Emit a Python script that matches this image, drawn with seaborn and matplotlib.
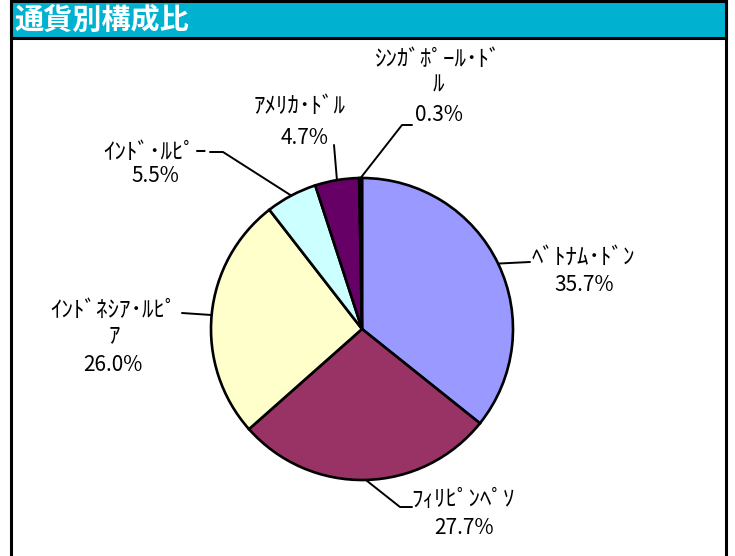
import numpy as np
import seaborn as sns
import matplotlib
matplotlib.use('Agg')
import matplotlib.pyplot as plt
from matplotlib.patches import Rectangle

# データ（通貨別構成比）
currencies = ['ﾍﾞﾄﾅﾑ･ﾄﾞﾝ', 'ﾌｨﾘﾋﾟﾝﾍﾟｿ', 'ｲﾝﾄﾞﾈｼｱ･ﾙﾋﾟ\nｱ', 'ｲﾝﾄﾞ･ﾙﾋﾟｰ', 'ｱﾒﾘｶ･ﾄﾞﾙ', 'ｼﾝｶﾞﾎﾟｰﾙ･ﾄﾞ\nﾙ']
shares = [35.7, 27.7, 26.0, 5.5, 4.7, 0.3]
colors = ['#9999FF', '#993366', '#FFFFCC', '#CCFFFF', '#660066', '#000000']
title = '通貨別構成比'

# レイアウト（ピクセル）
W, H = 735, 556
cx, cy, r = 362, 329, 151
name_px = [(583, 257), (463, 500), (114, 323), (155, 152), (300, 107), (438, 72)]
value_px = [(584, 285), (464, 528), (113, 365), (155, 176), (305, 138), (439, 115)]
elbow_px = [[(530, 262)], [(400, 507), (412, 507)], [(182, 313)],
            [(223, 152), (210, 152)], [(334, 145)], [(402, 125), (412, 125)]]

sns.set_theme(style='white')
plt.rcParams['font.family'] = ['Noto Sans CJK JP', 'DejaVu Sans']

fig = plt.figure(figsize=(W / 100, H / 100), dpi=100, facecolor='white')


def fx(x):
    return x / W


def fy(y):
    return 1 - y / H


# 枠とタイトルバー
fig.add_artist(Rectangle((fx(10.5), fy(H + 10)), fx(715), (H + 10) / H,
                         transform=fig.transFigure, facecolor='none',
                         edgecolor='black', lw=2.2))
fig.add_artist(Rectangle((fx(10.5), fy(37.5)), fx(715), 36 / H,
                         transform=fig.transFigure, facecolor='#00B2D0',
                         edgecolor='black', lw=2.2))
fig.text(fx(14), fy(20), title, color='white', fontsize=21, fontweight='bold',
         ha='left', va='center')

# 円グラフ
ax = fig.add_axes([fx(cx - r), fy(cy + r), 2 * r / W, 2 * r / H])
wedges, _ = ax.pie(shares, colors=sns.color_palette(colors), startangle=90,
                   counterclock=False, radius=1,
                   wedgeprops=dict(edgecolor='black', linewidth=1.9))
ax.set_xlim(-1, 1)
ax.set_ylim(-1, 1)
ax.set_aspect('auto')
ax.axis('off')


def to_data(p):
    return ((p[0] - cx) / r, (cy - p[1]) / r)


for w, name, val, npx, vpx, elbows in zip(wedges, currencies, shares, name_px, value_px, elbow_px):
    ang = np.deg2rad((w.theta1 + w.theta2) / 2)
    pts = [(np.cos(ang), np.sin(ang))] + [to_data(p) for p in elbows]
    xs, ys = zip(*pts)
    ax.plot(xs, ys, color='black', lw=1.4, clip_on=False)
    tx, ty = to_data(npx)
    ax.text(tx, ty, name, ha='center', va='center', multialignment='center',
            fontsize=16.5, linespacing=1.15, color='black', clip_on=False)
    tx, ty = to_data(vpx)
    ax.text(tx, ty, f'{val:.1f}%', ha='center', va='center',
            fontsize=15, color='black', clip_on=False)

plt.savefig('out.png', dpi=100, facecolor='white')
plt.close()
